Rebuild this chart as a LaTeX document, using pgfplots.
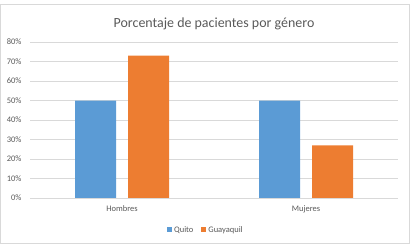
\documentclass[border=0pt]{standalone}
\usepackage{pgfplots}
\pgfplotsset{compat=1.18}
\usepackage{fontspec}
\setmainfont{Carlito}
\definecolor{qblue}{HTML}{5B9BD5}
\definecolor{gorange}{HTML}{ED7D31}
\definecolor{txtgray}{HTML}{595959}
\definecolor{gridgray}{HTML}{D9D9D9}
\begin{document}
\begin{tikzpicture}
\path[use as bounding box] (0bp,0bp) rectangle (412bp,250bp);
\draw[gridgray, line width=0.8bp] (0.5bp,6.5bp) rectangle (409bp,246bp);
\begin{axis}[
  at={(30bp,52bp)}, anchor=south west,
  scale only axis, width=368bp, height=156bp,
  ybar=12bp, bar width=41bp,
  xmin=-0.5, xmax=1.5, ymin=0, ymax=80,
  xtick={0,1}, xticklabels={Hombres,Mujeres},
  ytick={0,10,...,80},
  yticklabel={\pgfmathprintnumber{\tick}\%},
  /pgf/number format/assume math mode=true,
  axis x line*=bottom,
  axis y line*=left,
  x axis line style={draw=gridgray, -},
  y axis line style={draw=none},
  ymajorgrids, grid style={gridgray, line width=0.6bp},
  major tick length=0pt,
  tick label style={font=\fontsize{8.5}{10}\selectfont, text=txtgray},
  yticklabel style={xshift=-5bp},
  xticklabel style={yshift=-4bp},
  title={Porcentaje de pacientes por género},
  title style={font=\fontsize{14}{16}\selectfont, text=txtgray, at={(0.5,1)}, anchor=center, yshift=12bp},
  legend style={at={(0.478,-0.205)}, anchor=center, draw=none, legend columns=2, font=\fontsize{8.5}{10}\selectfont, text=txtgray, /tikz/every even column/.append style={column sep=6bp}},
  legend image code/.code={\fill[#1] (0bp,-2.5bp) rectangle (5bp,2.5bp);},
]
\addplot[fill=qblue, draw=none] coordinates {(0,50) (1,50)};
\addplot[fill=gorange, draw=none] coordinates {(0,73) (1,27)};
\legend{Quito,Guayaquil}
\end{axis}
\end{tikzpicture}
\end{document}
